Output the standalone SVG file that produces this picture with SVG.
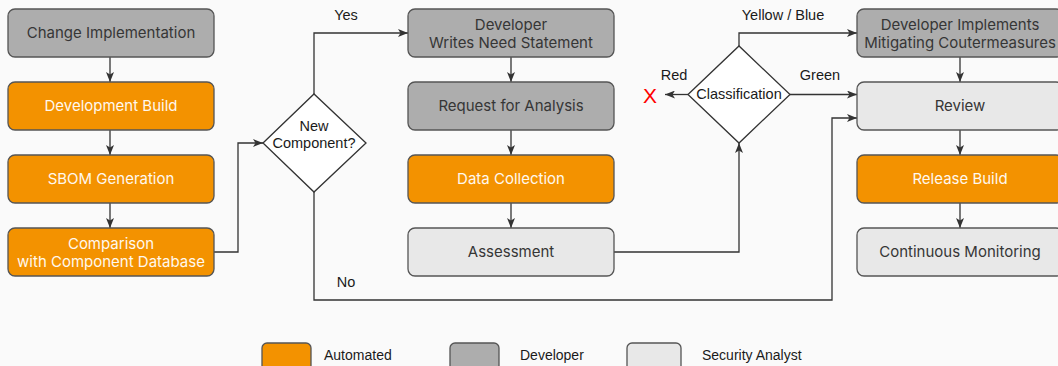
<svg xmlns="http://www.w3.org/2000/svg" width="1058" height="366" viewBox="0 0 1058 366">
  <defs>
    <style>
      .box { stroke: #555555; stroke-width: 1.3; }
      .auto { fill: #F39200; }
      .dev { fill: #ADADAD; }
      .sec { fill: #E8E8E8; }
      .dia { fill: #FFFFFF; stroke: #333333; stroke-width: 1.3; }
      .t { font-family: Inter, "Liberation Sans", sans-serif; font-size: 15px; text-anchor: middle; dominant-baseline: central; fill: #363636; }
      .tw { fill: #FFF8EE; }
      .lbl { font-family: "Liberation Sans", Arial, sans-serif; font-size: 14.5px; text-anchor: middle; dominant-baseline: central; fill: #1a1a1a; }
      .leg { font-family: "Liberation Sans", Arial, sans-serif; font-size: 14px; dominant-baseline: central; fill: #1a1a1a; }
      .edge { fill: none; stroke: #333333; stroke-width: 1.3; }
    </style>
    <marker id="arr" viewBox="0 0 10 8" refX="10" refY="4" markerWidth="10" markerHeight="8" markerUnits="userSpaceOnUse" orient="auto">
      <path d="M0,0 L10,4 L0,8 L2.5,4 Z" fill="#333333"/>
    </marker>
  </defs>

  <rect width="1058" height="366" fill="#FAFAFA"/>

  <!-- connectors -->
  <g id="connectors">
    <path class="edge" d="M110,57 V82" marker-end="url(#arr)"/>
    <path class="edge" d="M110,130 V155" marker-end="url(#arr)"/>
    <path class="edge" d="M110,203 V228" marker-end="url(#arr)"/>
    <path class="edge" d="M214,252 H238 V143 H263" marker-end="url(#arr)"/>
    <path class="edge" d="M314,94 V33 H408" marker-end="url(#arr)"/>
    <path class="edge" d="M314,192 V300 H832 V118 H857" marker-end="url(#arr)"/>
    <path class="edge" d="M511,57 V82" marker-end="url(#arr)"/>
    <path class="edge" d="M511,130 V155" marker-end="url(#arr)"/>
    <path class="edge" d="M511,203 V228" marker-end="url(#arr)"/>
    <path class="edge" d="M614,252 H739 V143" marker-end="url(#arr)"/>
    <path class="edge" d="M739,46 V33 H857" marker-end="url(#arr)"/>
    <path class="edge" d="M790,94.5 H857" marker-end="url(#arr)"/>
    <path class="edge" d="M688,94.5 H665" marker-end="url(#arr)"/>
    <path class="edge" d="M960,57 V82" marker-end="url(#arr)"/>
    <path class="edge" d="M960,130 V155" marker-end="url(#arr)"/>
    <path class="edge" d="M960,203 V228" marker-end="url(#arr)"/>
    <text class="lbl" x="346" y="15">Yes</text>
    <text class="lbl" x="346" y="282">No</text>
    <text class="lbl" x="783" y="15">Yellow / Blue</text>
    <text class="lbl" x="820" y="75">Green</text>
    <text class="lbl" x="674" y="75">Red</text>
    <text x="650" y="95" font-family="Liberation Sans, Arial, sans-serif" font-size="21" text-anchor="middle" dominant-baseline="central" fill="#FF0000">X</text>
  </g>

  <!-- left column -->
  <g id="change-implementation">
    <rect class="box dev" x="8" y="9" width="206" height="48" rx="7"/>
    <text class="t" x="111" y="32.5">Change Implementation</text>
  </g>
  <g id="development-build">
    <rect class="box auto" x="8" y="82" width="206" height="48" rx="7"/>
    <text class="t tw" x="111" y="105.5">Development Build</text>
  </g>
  <g id="sbom-generation">
    <rect class="box auto" x="8" y="155" width="206" height="48" rx="7"/>
    <text class="t tw" x="111" y="178.5">SBOM Generation</text>
  </g>
  <g id="comparison">
    <rect class="box auto" x="8" y="228" width="206" height="48" rx="7"/>
    <text class="t tw" x="111" y="243">Comparison</text>
    <text class="t tw" x="111" y="261">with Component Database</text>
  </g>

  <!-- decision: new component -->
  <g id="new-component">
    <polygon class="dia" points="263,143 314,94 366,143 314,192"/>
    <text class="lbl" x="314" y="126">New</text>
    <text class="lbl" x="314" y="143">Component?</text>
  </g>

  <!-- middle column -->
  <g id="need-statement">
    <rect class="box dev" x="408" y="9" width="206" height="48" rx="7"/>
    <text class="t" x="511" y="24">Developer</text>
    <text class="t" x="511" y="42">Writes Need Statement</text>
  </g>
  <g id="request-analysis">
    <rect class="box dev" x="408" y="82" width="206" height="48" rx="7"/>
    <text class="t" x="511" y="105.5">Request for Analysis</text>
  </g>
  <g id="data-collection">
    <rect class="box auto" x="408" y="155" width="206" height="48" rx="7"/>
    <text class="t tw" x="511" y="178.5">Data Collection</text>
  </g>
  <g id="assessment">
    <rect class="box sec" x="408" y="228" width="206" height="48" rx="7"/>
    <text class="t" x="511" y="251.5">Assessment</text>
  </g>

  <!-- decision: classification -->
  <g id="classification">
    <polygon class="dia" points="688,94.5 739,46 790,94.5 739,143"/>
    <text class="lbl" x="739" y="94">Classification</text>
  </g>

  <!-- right column -->
  <g id="countermeasures">
    <rect class="box dev" x="857" y="9" width="206" height="48" rx="7"/>
    <text class="t" x="960" y="24">Developer Implements</text>
    <text class="t" x="960" y="42">Mitigating Coutermeasures</text>
  </g>
  <g id="review">
    <rect class="box sec" x="857" y="82" width="206" height="48" rx="7"/>
    <text class="t" x="960" y="105.5">Review</text>
  </g>
  <g id="release-build">
    <rect class="box auto" x="857" y="155" width="206" height="48" rx="7"/>
    <text class="t tw" x="960" y="178.5">Release Build</text>
  </g>
  <g id="continuous-monitoring">
    <rect class="box sec" x="857" y="228" width="206" height="48" rx="7"/>
    <text class="t" x="960" y="251.5">Continuous Monitoring</text>
  </g>

  <!-- legend -->
  <g id="legend">
    <rect class="box auto" x="262" y="343" width="49" height="40" rx="5"/>
    <text class="leg" x="324" y="355">Automated</text>
    <rect class="box dev" x="450" y="343" width="49" height="40" rx="5"/>
    <text class="leg" x="520" y="355">Developer</text>
    <rect class="box sec" x="627" y="343" width="54" height="40" rx="5"/>
    <text class="leg" x="702" y="355">Security Analyst</text>
  </g>
</svg>
